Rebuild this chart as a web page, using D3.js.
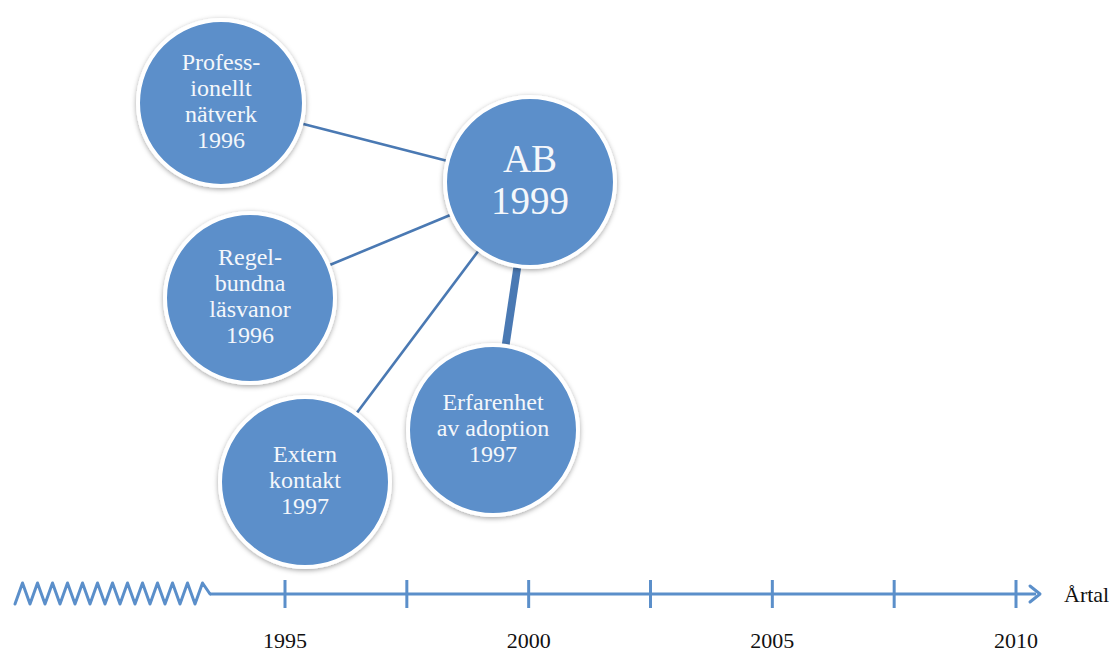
<!DOCTYPE html>
<html>
<head>
<meta charset="utf-8">
<script src="https://cdn.jsdelivr.net/npm/d3@7"></script>
<style>
  body { margin: 0; background: #fff; }
  svg { display: block; }
</style>
</head>
<body>
<svg width="1118" height="653"></svg>
<script>
'use strict';

// nodes: label lines + year
const nodeIds = ["prof", "ab", "regel", "extern", "erf"];
const nodeLines = [
  ["Profess-", "ionellt", "nätverk"],
  ["AB"],
  ["Regel-", "bundna", "läsvanor"],
  ["Extern", "kontakt"],
  ["Erfarenhet", "av adoption"]
];
const nodeYears = [1996, 1999, 1996, 1997, 1997];

// links to the AB node, weight = line thickness class
const linkSources = ["prof", "regel", "extern", "erf"];
const linkWeights = [1, 1, 1, 3];

// time axis
const axisTicks = [1995, 1997.5, 2000, 2002.5, 2005, 2007.5, 2010];
const axisLabels = [1995, 2000, 2005, 2010];
const axisTitle = "Årtal";

// layout of the diagram (kept apart from data)
const layout = {
  prof:   {x: 221, y: 103, r: 83},
  ab:     {x: 530, y: 182, r: 85},
  regel:  {x: 250, y: 298, r: 85},
  extern: {x: 305, y: 482, r: 85},
  erf:    {x: 493, y: 430, r: 85}
};

let svg = d3.select("svg"),
    width = +svg.attr("width"),
    height = +svg.attr("height");

const blue = "#5b8fca",
      lineBlue = "#4a79b3",
      font = "'Liberation Serif', 'Times New Roman', serif";

let defs = svg.append("defs");
let shadow = defs.append("filter").attr("id", "shadow")
    .attr("x", "-20%").attr("y", "-20%").attr("width", "140%").attr("height", "140%");
shadow.append("feDropShadow")
    .attr("dx", 0).attr("dy", 1.5).attr("stdDeviation", 2.5)
    .attr("flood-color", "#000").attr("flood-opacity", 0.35);

// axis
let x = d3.scaleLinear().domain([1995, 2010]).range([285, 1016]);
const axisY = 594;

let axisG = svg.append("g");

// zigzag break at the left
let zigX = d3.scaleLinear().domain([0, 26]).range([15, 210]);
let zigPts = d3.range(27).map(i => [zigX(i), i % 2 === 0 ? axisY + 10 : axisY - 11]);
zigPts[zigPts.length - 1] = [210, axisY];
axisG.append("path")
    .attr("d", d3.line()(zigPts))
    .attr("fill", "none")
    .attr("stroke", blue)
    .attr("stroke-width", 3)
    .attr("stroke-linejoin", "round")
    .attr("stroke-linecap", "round");

axisG.append("line")
    .attr("x1", 210).attr("x2", 1036)
    .attr("y1", axisY).attr("y2", axisY)
    .attr("stroke", blue).attr("stroke-width", 3);

// arrow head
axisG.append("path")
    .attr("d", d3.line()([[1030, axisY - 8], [1040, axisY], [1030, axisY + 8]]))
    .attr("fill", "none")
    .attr("stroke", blue).attr("stroke-width", 3)
    .attr("stroke-linecap", "round").attr("stroke-linejoin", "round");

axisG.selectAll(".tick")
    .data(axisTicks)
    .enter()
    .append("line")
    .attr("class", "tick")
    .attr("x1", d => x(d)).attr("x2", d => x(d))
    .attr("y1", axisY - 14).attr("y2", axisY + 14)
    .attr("stroke", blue).attr("stroke-width", 3);

axisG.selectAll(".tlabel")
    .data(axisLabels)
    .enter()
    .append("text")
    .attr("class", "tlabel")
    .attr("x", d => x(d))
    .attr("y", 648)
    .attr("text-anchor", "middle")
    .attr("font-family", font)
    .attr("font-size", 22)
    .attr("fill", "#111")
    .text(d => d);

axisG.append("text")
    .attr("x", 1064).attr("y", 602)
    .attr("font-family", font)
    .attr("font-size", 22)
    .attr("fill", "#111")
    .text(axisTitle);

// links
const target = layout.ab;
function edgePoint(a, b, off) {
  let dx = b.x - a.x, dy = b.y - a.y, len = Math.sqrt(dx * dx + dy * dy);
  return [a.x + dx / len * (a.r + off), a.y + dy / len * (a.r + off)];
}
svg.append("g")
    .selectAll("line")
    .data(linkSources)
    .enter()
    .append("line")
    .each(function(d, i) {
      let s = layout[d];
      let p1 = edgePoint(s, target, 0), p2 = edgePoint(target, s, 0);
      d3.select(this)
        .attr("x1", p1[0]).attr("y1", p1[1])
        .attr("x2", p2[0]).attr("y2", p2[1]);
    })
    .attr("stroke", lineBlue)
    .attr("stroke-width", (d, i) => linkWeights[i] * 2.6);

// nodes
let nodes = nodeIds.map((id, i) => ({
  id: id,
  lines: nodeLines[i].concat([String(nodeYears[i])]),
  big: id === "ab"
}));

let gs = svg.append("g")
    .selectAll("g")
    .data(nodes)
    .enter()
    .append("g")
    .attr("transform", d => "translate(" + layout[d.id].x + "," + layout[d.id].y + ")");

gs.append("circle")
    .attr("r", d => layout[d.id].r)
    .attr("fill", blue)
    .attr("stroke", "#fff")
    .attr("stroke-width", 4)
    .attr("filter", "url(#shadow)");

gs.each(function(d) {
  let fs = d.big ? 39 : 24,
      lh = d.big ? 42 : 26,
      n = d.lines.length,
      y0 = -(n - 1) * lh / 2 + fs * 0.33 - 2;
  d3.select(this).selectAll("text")
    .data(d.lines)
    .enter()
    .append("text")
    .attr("x", 0)
    .attr("y", (t, j) => y0 + j * lh)
    .attr("text-anchor", "middle")
    .attr("font-family", font)
    .attr("font-size", fs)
    .attr("fill", "#f4f7fb")
    .text(t => t);
});
</script>
</body>
</html>
